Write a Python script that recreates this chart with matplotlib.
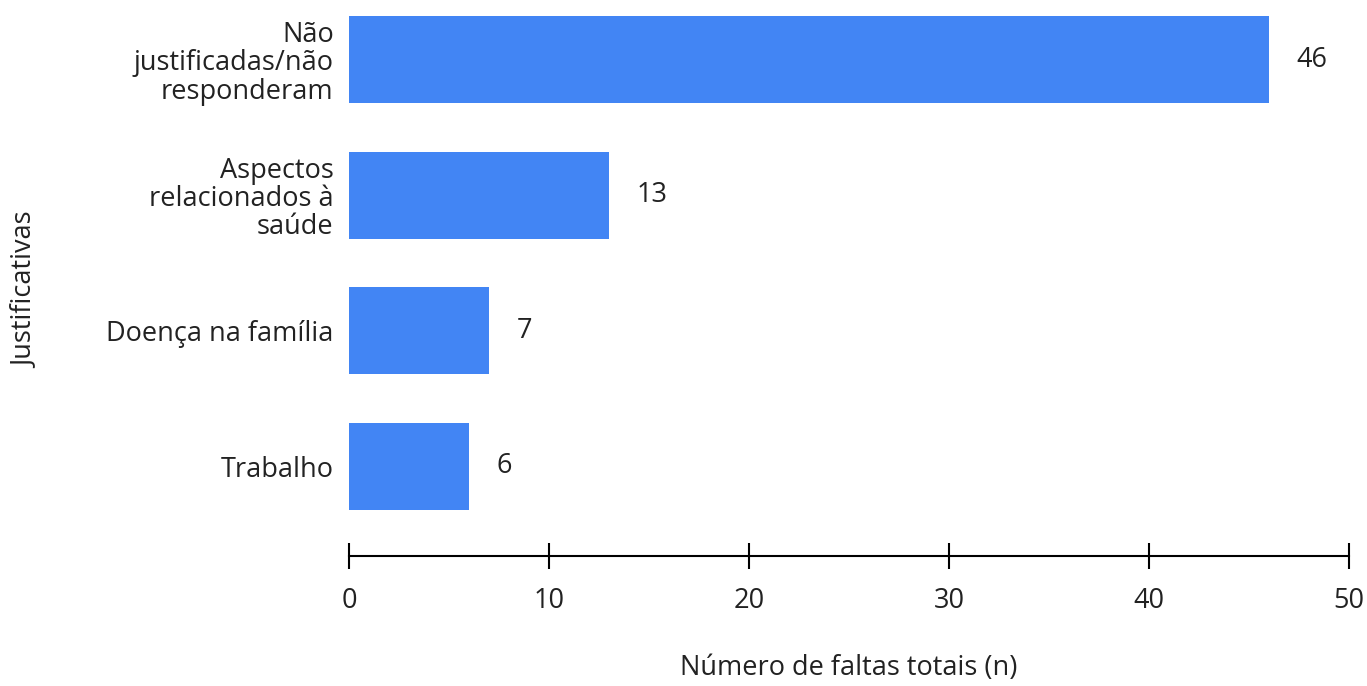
import matplotlib.pyplot as plt

plt.rcParams['font.family'] = ['Open Sans', 'DejaVu Sans']

# Chart data
categories = ['Não\njustificadas/não\nresponderam', 'Aspectos\nrelacionados à\nsaúde',
              'Doença na família', 'Trabalho']
values = [46, 13, 7, 6]
x_ticks = [0, 10, 20, 30, 40, 50]

FS = 19.5
TXT = '#222222'

fig = plt.figure(figsize=(13.67, 6.86), dpi=100)
ax = fig.add_axes([349 / 1367, 130 / 686, 1000 / 1367, 556 / 686])

positions = list(range(len(categories)))
ax.barh(positions, values, height=0.64, color='#4285F4')

for p, v in zip(positions, values):
    ax.annotate(str(v), (v, p), xytext=(20, 0), textcoords='offset points',
                va='center', ha='left', fontsize=FS, color=TXT)

ax.set_xlim(0, 50)
ax.set_ylim(3.66, -0.44)
ax.set_xticks(x_ticks)
ax.set_yticks(positions)
ax.set_yticklabels(categories, fontsize=FS, color=TXT, linespacing=1.02,
                   ha='right')
ax.tick_params(axis='y', length=0, pad=11)
ax.tick_params(axis='x', direction='inout', length=19, width=1.5,
               labelsize=FS, labelcolor=TXT, pad=13)

for side in ['top', 'right', 'left']:
    ax.spines[side].set_visible(False)
ax.spines['bottom'].set_linewidth(1.5)

fig.text(849 / 1367, 1 - 668 / 686, 'Número de faltas totais (n)',
         ha='center', va='center', fontsize=FS, color=TXT)
fig.text(25 / 1367, 1 - 290 / 686, 'Justificativas', rotation=90,
         ha='center', va='center', fontsize=FS, color=TXT)

fig.savefig('out.png', dpi=100)
